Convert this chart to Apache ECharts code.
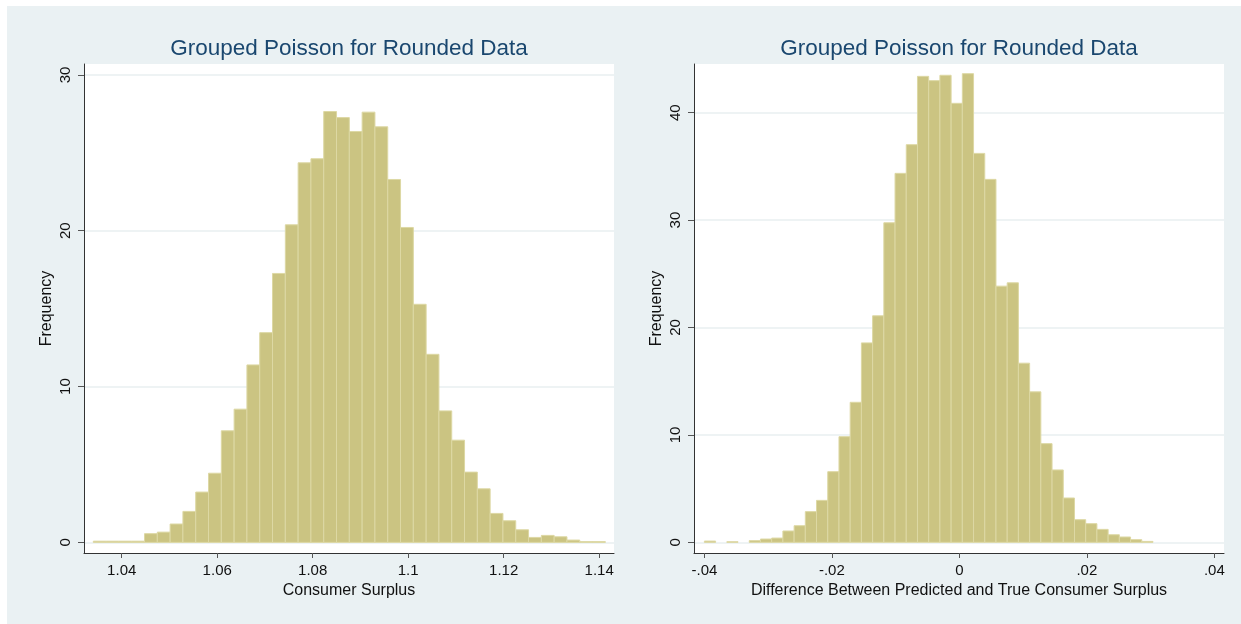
<!DOCTYPE html>
<html>
<head>
<meta charset="utf-8">
<script src="https://cdn.jsdelivr.net/npm/echarts@6/dist/echarts.min.js"></script>
<style>
html,body{margin:0;padding:0;background:#ffffff;}
#chart{position:absolute;left:0;top:0;width:1241px;height:624px;}
</style>
</head>
<body>
<div id="chart"></div>
<script>
// ---------- data ----------
const titleText = 'Grouped Poisson for Rounded Data';

// left histogram: Consumer Surplus
const leftBinStart = 1.03405;
const leftBinWidth = 0.002681;
const leftFreq = [0.08, 0.08, 0.08, 0.08, 0.56, 0.66, 1.18, 1.99, 3.23, 4.44,
                  7.16, 8.55, 11.39, 13.46, 17.26, 20.38, 24.36, 24.62, 27.65, 27.26,
                  26.37, 27.61, 26.67, 23.29, 20.21, 15.28, 12.07, 8.44, 6.56, 4.51,
                  3.44, 1.86, 1.39, 0.81, 0.32, 0.45, 0.36, 0.15, 0.05, 0.05];
const leftXTicks = [1.04, 1.06, 1.08, 1.1, 1.12, 1.14];
const leftXLabels = ['1.04', '1.06', '1.08', '1.1', '1.12', '1.14'];
const leftYTicks = [0, 10, 20, 30];
const leftXName = 'Consumer Surplus';

// right histogram: Difference
const rightBinStart = -0.04;
const rightBinWidth = 0.0017595;
const rightFreq = [0.12, 0, 0.06, 0, 0.16, 0.31, 0.40, 1.06, 1.55, 2.86,
                   3.91, 6.58, 9.84, 13.04, 18.57, 21.09, 29.75, 34.35, 37.02, 43.38,
                   42.98, 43.48, 40.87, 43.63, 36.21, 33.79, 23.85, 24.16, 16.68, 14.01,
                   9.19, 6.74, 4.13, 2.11, 1.74, 1.21, 0.71, 0.50, 0.25, 0.09];
const rightXTicks = [-0.04, -0.02, 0, 0.02, 0.04];
const rightXLabels = ['-.04', '-.02', '0', '.02', '.04'];
const rightYTicks = [0, 10, 20, 30, 40];
const rightXName = 'Difference Between Predicted and True Consumer Surplus';
const yName = 'Frequency';

// ---------- build ----------
function bins(start, width, freq) {
  return freq.map((v, i) => [start + i * width, start + (i + 1) * width, v]);
}
const FONT = 'Liberation Sans, Arial, sans-serif';
const barFill = '#cbc482';
const barEdge = '#ddd8a4';

function renderBar(params, api) {
  const v = api.value(2);
  if (!(v > 0)) return null;
  const p0 = api.coord([api.value(0), v]);
  const p1 = api.coord([api.value(1), 0]);
  return {
    type: 'rect',
    shape: { x: p0[0], y: p0[1], width: p1[0] - p0[0], height: p1[1] - p0[1] },
    style: { fill: barFill, stroke: barEdge, lineWidth: 1 }
  };
}

function xAxisCfg(idx, min, max, ticks, labels, name) {
  return {
    type: 'value', gridIndex: idx, min: min, max: max,
    name: name, nameLocation: 'middle', nameGap: 26,
    nameTextStyle: { fontFamily: FONT, fontSize: 16, color: '#111' },
    axisLine: { show: true, onZero: false, lineStyle: { color: '#333', width: 1 } },
    axisTick: { show: true, length: 5, customValues: ticks, lineStyle: { color: '#555' } },
    axisLabel: {
      customValues: ticks, margin: 10, fontFamily: FONT, fontSize: 15, color: '#111',
      formatter: function (val) {
        for (let i = 0; i < ticks.length; i++) if (Math.abs(ticks[i] - val) < 1e-9) return labels[i];
        return '';
      }
    },
    splitLine: { show: false }
  };
}
function yAxisCfg(idx, min, max, ticks) {
  return {
    type: 'value', gridIndex: idx, min: min, max: max,
    name: yName, nameLocation: 'middle', nameRotate: 90, nameGap: 29,
    nameTextStyle: { fontFamily: FONT, fontSize: 16, color: '#111' },
    axisLine: { show: true, onZero: false, lineStyle: { color: '#333', width: 1 } },
    axisTick: { show: true, length: 6, customValues: ticks, lineStyle: { color: '#555' } },
    axisLabel: { customValues: ticks, rotate: 90, margin: 11, fontFamily: FONT, fontSize: 15, color: '#111' },
    splitLine: { show: true, lineStyle: { color: '#e8eff1', width: 1.5 } }
  };
}

const option = {
  animation: false,
  backgroundColor: 'transparent',
  graphic: [{
    type: 'rect', z: -100, silent: true,
    shape: { x: 7, y: 6, width: 1234, height: 618 },
    style: { fill: '#eaf1f3' }
  }],
  title: [
    { text: titleText, left: 349, top: 37, textAlign: 'center', padding: 0,
      textStyle: { fontFamily: FONT, fontSize: 22.5, fontWeight: 'normal', color: '#1a476f' } },
    { text: titleText, left: 959, top: 37, textAlign: 'center', padding: 0,
      textStyle: { fontFamily: FONT, fontSize: 22.5, fontWeight: 'normal', color: '#1a476f' } }
  ],
  grid: [
    { left: 84, top: 64, width: 530, height: 489, show: true, backgroundColor: '#ffffff', borderWidth: 0 },
    { left: 694, top: 64, width: 530, height: 489, show: true, backgroundColor: '#ffffff', borderWidth: 0 }
  ],
  xAxis: [
    xAxisCfg(0, 1.0321, 1.1431, leftXTicks, leftXLabels, leftXName),
    xAxisCfg(1, -0.04163, 0.04152, rightXTicks, rightXLabels, rightXName)
  ],
  yAxis: [
    yAxisCfg(0, -0.68, 30.7, leftYTicks),
    yAxisCfg(1, -0.99, 44.53, rightYTicks)
  ],
  series: [
    { type: 'custom', xAxisIndex: 0, yAxisIndex: 0, renderItem: renderBar,
      encode: { x: [0, 1], y: 2 }, data: bins(leftBinStart, leftBinWidth, leftFreq) },
    { type: 'custom', xAxisIndex: 1, yAxisIndex: 1, renderItem: renderBar,
      encode: { x: [0, 1], y: 2 }, data: bins(rightBinStart, rightBinWidth, rightFreq) }
  ]
};

const chart = echarts.init(document.getElementById('chart'), null, { renderer: 'canvas' });
chart.setOption(option);
</script>
</body>
</html>
